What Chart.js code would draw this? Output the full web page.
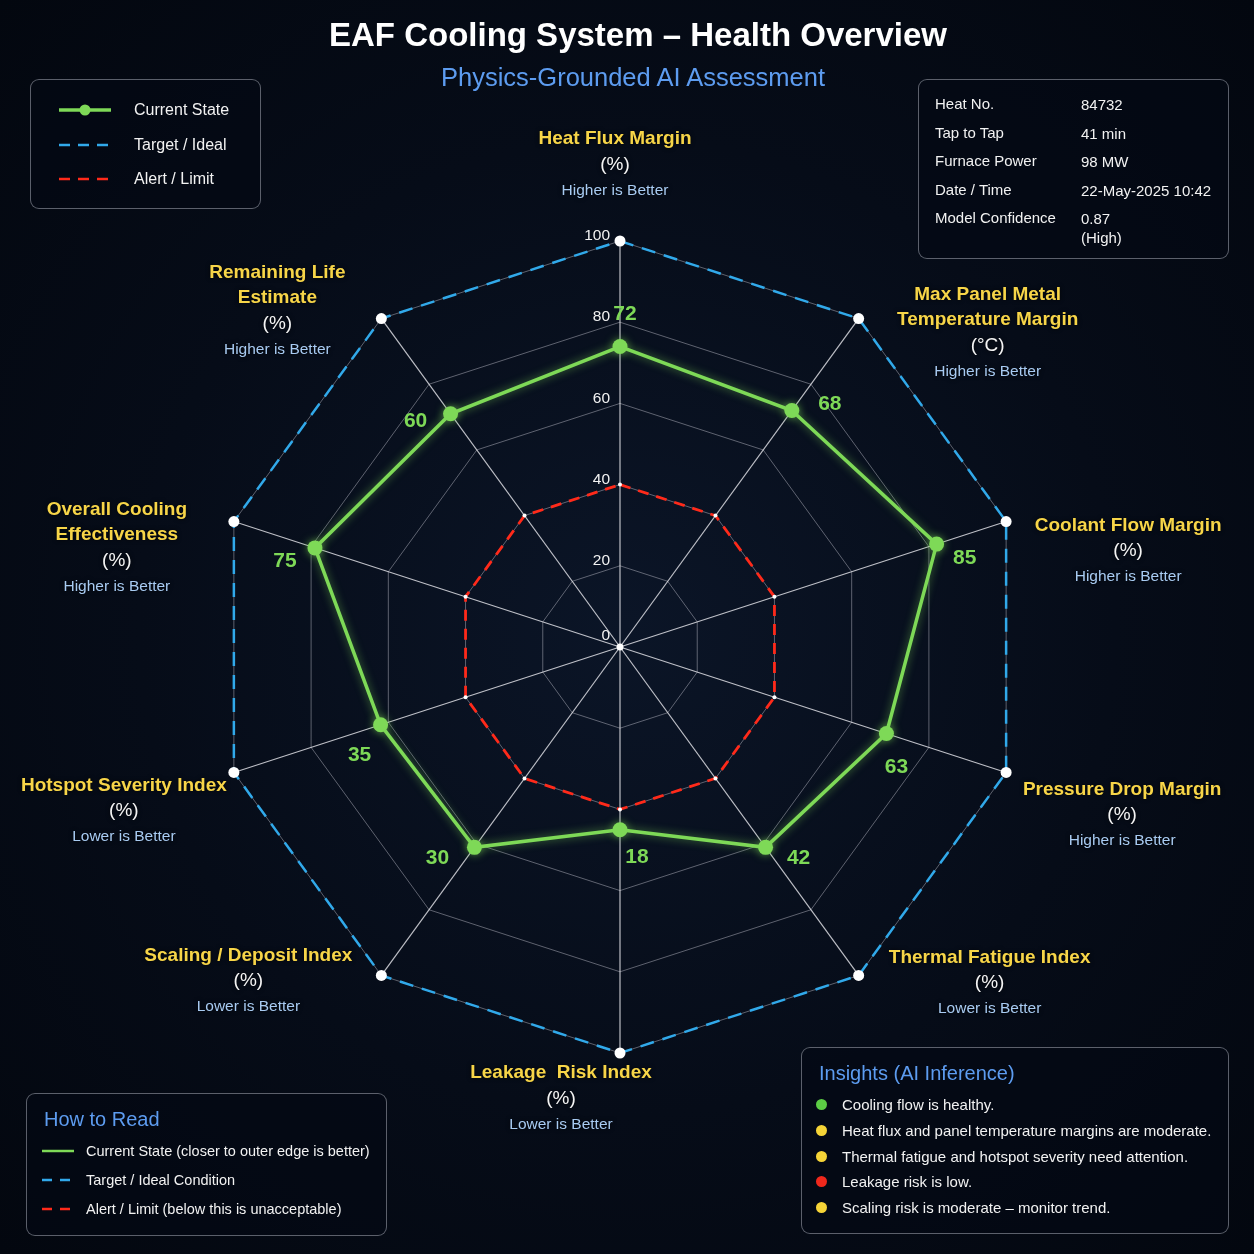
<!DOCTYPE html>
<html>
<head>
<meta charset="utf-8">
<script src="https://cdn.jsdelivr.net/npm/chart.js@4.4.1/dist/chart.umd.min.js"></script>
<style>
  html, body { margin: 0; padding: 0; }
  body {
    width: 1254px; height: 1254px; position: relative; overflow: hidden;
    background: radial-gradient(ellipse at 50% 50%, #0b1527 0%, #060c18 55%, #03070f 100%);
    font-family: "Liberation Sans", Arial, sans-serif; color: #f2f2f2;
  }
  #wrap { position: absolute; left: 0; top: 0; width: 1254px; height: 1254px; }
  .title { position: absolute; left: 0; width: 1254px; text-align: center; top: 16px;
    font-size: 33px; font-weight: bold; color: #fff; margin-left: 11px; }
  .subtitle { position: absolute; left: 0; width: 1254px; text-align: center; top: 63px;
    font-size: 25.5px; color: #5d9cf0; margin-left: 6px; }
  .box { position: absolute; border: 1.5px solid rgba(200,205,215,0.45); border-radius: 9px;
    background: rgba(4,9,20,0.6); box-sizing: border-box; }
  .legend { left: 30px; top: 79px; width: 231px; height: 130px; }
  .legend .row { position: absolute; left: 28px; height: 20px; font-size: 16px; display: flex; align-items: center; }
  .legend svg { width: 52px; height: 14px; margin-right: 23px; }
  .info { left: 918px; top: 79px; width: 311px; height: 180px; font-size: 15px; }
  .info .k { position: absolute; left: 16px; }
  .info .v { position: absolute; left: 162px; line-height: 19px; }
  .howto { left: 26px; top: 1093px; width: 361px; height: 143px; }
  .howto h3, .insights h3 { margin: 0; position: absolute; font-weight: normal; font-size: 20px; color: #5d9cf0; }
  .howto .row { position: absolute; left: 15px; font-size: 14.5px; display: flex; align-items: center; }
  .howto svg { width: 32px; height: 10px; margin-right: 12px; }
  .insights { left: 801px; top: 1047px; width: 428px; height: 187px; }
  .insights .row { position: absolute; left: 14px; font-size: 15px; display: flex; align-items: center; }
  .insights .dot { width: 11px; height: 11px; border-radius: 50%; margin-right: 15px; }
  canvas { position: absolute; left: 0; top: 0; }
</style>
</head>
<body>
<div id="wrap"><canvas id="radar" width="1254" height="1254"></canvas></div>

<div class="title">EAF Cooling System – Health Overview</div>
<div class="subtitle">Physics-Grounded AI Assessment</div>

<div class="box legend">
  <div class="row" style="top:20px"><svg viewBox="0 0 52 14"><line x1="0" y1="7" x2="52" y2="7" stroke="#7ed957" stroke-width="3.5"/><circle cx="26" cy="7" r="5.5" fill="#7ed957"/></svg>Current State</div>
  <div class="row" style="top:55px"><svg viewBox="0 0 52 14"><line x1="0" y1="7" x2="52" y2="7" stroke="#31a9ea" stroke-width="2.5" stroke-dasharray="11 8"/></svg>Target / Ideal</div>
  <div class="row" style="top:89px"><svg viewBox="0 0 52 14"><line x1="0" y1="7" x2="52" y2="7" stroke="#ff2a1a" stroke-width="2.5" stroke-dasharray="11 8"/></svg>Alert / Limit</div>
</div>

<div class="box info" id="info"></div>

<div class="box howto">
  <h3 style="left:17px; top:14px">How to Read</h3>
  <div class="row" style="top:49px"><svg viewBox="0 0 32 10"><line x1="0" y1="5" x2="32" y2="5" stroke="#7ed957" stroke-width="2.5"/></svg>Current State (closer to outer edge is better)</div>
  <div class="row" style="top:78px"><svg viewBox="0 0 32 10"><line x1="0" y1="5" x2="32" y2="5" stroke="#31a9ea" stroke-width="2.5" stroke-dasharray="10 8"/></svg>Target / Ideal Condition</div>
  <div class="row" style="top:107px"><svg viewBox="0 0 32 10"><line x1="0" y1="5" x2="32" y2="5" stroke="#ff2a1a" stroke-width="2.5" stroke-dasharray="10 8"/></svg>Alert / Limit (below this is unacceptable)</div>
</div>

<div class="box insights" id="insights">
  <h3 style="left:17px; top:14px">Insights (AI Inference)</h3>
</div>

<script>
// axes of the radar, clockwise from the top
const axisNames = [
  ['Heat Flux Margin'],
  ['Max Panel Metal', 'Temperature Margin'],
  ['Coolant Flow Margin'],
  ['Pressure Drop Margin'],
  ['Thermal Fatigue Index'],
  ['Leakage  Risk Index'],
  ['Scaling / Deposit Index'],
  ['Hotspot Severity Index'],
  ['Overall Cooling', 'Effectiveness'],
  ['Remaining Life', 'Estimate']
];
const axisUnits = ['(%)', '(°C)', '(%)', '(%)', '(%)', '(%)', '(%)', '(%)', '(%)', '(%)'];
const axisSense = ['Higher is Better', 'Higher is Better', 'Higher is Better', 'Higher is Better',
  'Lower is Better', 'Lower is Better', 'Lower is Better', 'Lower is Better',
  'Higher is Better', 'Higher is Better'];

// where the green points sit on the grid in the picture
const currentState = [74, 72, 82, 69, 61, 45, 61, 62, 79, 71];
// scores printed next to the points (the picture prints these, not the grid position)
const printedScores = [72, 68, 85, 63, 42, 18, 30, 35, 75, 60];
const targetIdeal = [100, 100, 100, 100, 100, 100, 100, 100, 100, 100];
const alertLimit = [40, 40, 40, 40, 40, 40, 40, 40, 40, 40];
const radialTicks = [0, 20, 40, 60, 80, 100];

const infoKeys = ['Heat No.', 'Tap to Tap', 'Furnace Power', 'Date / Time', 'Model Confidence'];
const infoValues = ['84732', '41 min', '98 MW', '22-May-2025 10:42', '0.87<br>(High)'];

const insightTexts = [
  'Cooling flow is healthy.',
  'Heat flux and panel temperature margins are moderate.',
  'Thermal fatigue and hotspot severity need attention.',
  'Leakage risk is low.',
  'Scaling risk is moderate – monitor trend.'
];
const insightLevels = ['good', 'warn', 'warn', 'bad', 'warn'];

// ---- side boxes ----
const levelColor = { good: '#5ccc45', warn: '#f6d437', bad: '#f0281c' };
const info = document.getElementById('info');
infoKeys.forEach((k, i) => {
  const top = 15 + i * 28.6;
  info.insertAdjacentHTML('beforeend',
    `<div class="k" style="top:${top}px">${k}</div><div class="v" style="top:${top}px">${infoValues[i]}</div>`);
});
const ins = document.getElementById('insights');
insightTexts.forEach((t, i) => {
  ins.insertAdjacentHTML('beforeend',
    `<div class="row" style="top:${48 + i * 25.8}px"><span class="dot" style="background:${levelColor[insightLevels[i]]}"></span>${t}</div>`);
});

// ---- layout for text around the radar (pixel offsets) ----
const axisLabelOffset = [
  [-5, -102], [129, -24], [122, 4], [116, 17], [131, -18],
  [-59, 20], [-133, -20], [-110, 13], [-117, -12], [-104, -46]
];
const scoreOffset = [
  [5, -32], [38, -6], [28, 14], [10, 34], [33, 11],
  [17, 28], [-37, 11], [-21, 30], [-30, 13], [-35, 7]
];

const GREEN = '#7ed957';

const glowPlugin = {
  id: 'glow',
  beforeDatasetDraw(chart, args) {
    if (args.index !== 0) return;
    chart.ctx.save();
    chart.ctx.shadowColor = 'rgba(126,217,87,0.6)';
    chart.ctx.shadowBlur = 9;
  },
  afterDatasetDraw(chart, args) {
    if (args.index !== 0) return;
    chart.ctx.restore();
  }
};

const textPlugin = {
  id: 'radarText',
  afterDatasetsDraw(chart) {
    const ctx = chart.ctx;
    const r = chart.scales.r;
    ctx.save();

    // tick labels, left of the top spoke
    ctx.font = '15.5px "Liberation Sans", Arial, sans-serif';
    ctx.fillStyle = '#f2f2f2';
    ctx.textAlign = 'right';
    ctx.textBaseline = 'middle';
    radialTicks.forEach(v => {
      const d = r.getDistanceFromCenterForValue(v);
      ctx.fillText(String(v), r.xCenter - 10, r.yCenter - d - (v === 0 ? 11 : 5));
    });

    // centre dot
    ctx.fillStyle = '#ffffff';
    ctx.beginPath();
    ctx.arc(r.xCenter, r.yCenter, 3.5, 0, Math.PI * 2);
    ctx.fill();

    // printed scores next to the green points
    ctx.font = 'bold 21px "Liberation Sans", Arial, sans-serif';
    ctx.fillStyle = GREEN;
    ctx.textAlign = 'center';
    const pts = chart.getDatasetMeta(0).data;
    pts.forEach((p, i) => {
      ctx.fillText(String(printedScores[i]), p.x + scoreOffset[i][0], p.y + scoreOffset[i][1]);
    });

    // axis titles beyond the outer ring
    axisNames.forEach((lines, i) => {
      const o = r.getPointPosition(i, r.drawingArea);
      const x = o.x + axisLabelOffset[i][0];
      let y = o.y + axisLabelOffset[i][1];
      ctx.shadowColor = 'rgba(0,0,0,0.8)';
      ctx.shadowBlur = 4;
      ctx.font = 'bold 19px "Liberation Sans", Arial, sans-serif';
      ctx.fillStyle = '#f7d548';
      lines.forEach(l => { ctx.fillText(l, x, y); y += 25.5; });
      ctx.font = '19px "Liberation Sans", Arial, sans-serif';
      ctx.fillStyle = '#f4f4f4';
      ctx.fillText(axisUnits[i], x, y); y += 26;
      ctx.font = '15.5px "Liberation Sans", Arial, sans-serif';
      ctx.fillStyle = '#a8cbf2';
      ctx.fillText(axisSense[i], x, y);
    });
    ctx.restore();
  }
};

new Chart(document.getElementById('radar'), {
  type: 'radar',
  data: {
    labels: axisNames.map(n => n.join(' ')),
    datasets: [
      {
        label: 'Current State',
        data: currentState,
        borderColor: GREEN,
        backgroundColor: 'rgba(0,0,0,0)',
        borderWidth: 3.5,
        fill: false,
        pointRadius: 7.5,
        pointBackgroundColor: GREEN,
        pointBorderWidth: 0
      },
      {
        label: 'Alert / Limit',
        data: alertLimit,
        borderColor: '#ff2a1a',
        borderWidth: 2.8,
        borderDash: [11, 8],
        fill: false,
        pointRadius: 2,
        pointBackgroundColor: '#ffffff',
        pointBorderWidth: 0
      },
      {
        label: 'Target / Ideal',
        data: targetIdeal,
        borderColor: '#31a9ea',
        borderWidth: 2.5,
        borderDash: [14, 9],
        fill: false,
        pointRadius: 5.5,
        pointBackgroundColor: '#ffffff',
        pointBorderWidth: 0
      }
    ]
  },
  options: {
    responsive: false,
    animation: false,
    layout: { padding: { left: 214, right: 228, top: 241, bottom: 201 } },
    plugins: { legend: { display: false }, tooltip: { enabled: false } },
    scales: {
      r: {
        min: 0,
        max: 100,
        ticks: { display: false, stepSize: 20 },
        pointLabels: { display: false },
        grid: { color: 'rgba(200,200,210,0.45)', lineWidth: 1 },
        angleLines: { color: 'rgba(235,235,240,0.8)', lineWidth: 1.2 }
      }
    }
  },
  plugins: [glowPlugin, textPlugin]
});
</script>
</body>
</html>
